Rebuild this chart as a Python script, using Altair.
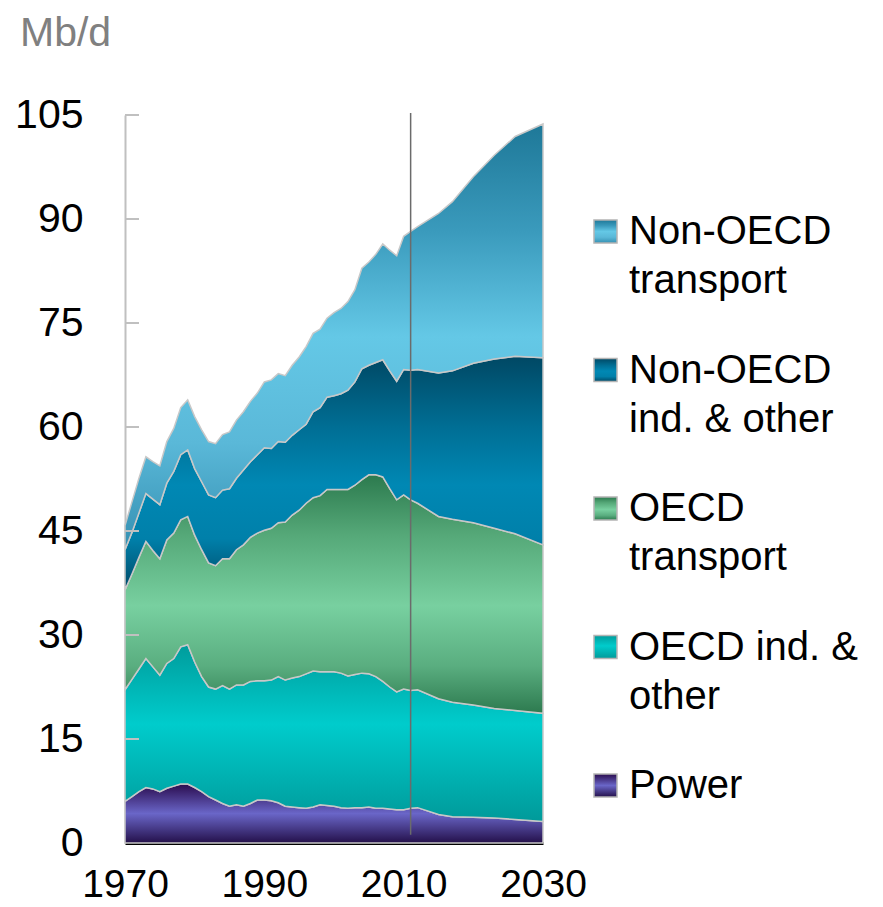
import altair as alt
import pandas as pd

# ---------------- data ----------------
years = list(range(1970, 2013)) + [2015, 2017, 2020, 2023, 2026, 2030]

# cumulative tops of each stacked band (Mb/d)
top_power = [6.0, 6.7, 7.4, 8.0, 7.8, 7.4, 7.9, 8.2, 8.5, 8.5,
             8.0, 7.4, 6.7, 6.2, 5.7, 5.3, 5.5, 5.3, 5.7, 6.2,
             6.2, 6.1, 5.8, 5.3, 5.2, 5.1, 5.0, 5.2, 5.5, 5.4,
             5.3, 5.1, 5.0, 5.1, 5.1, 5.2, 5.0, 5.0, 4.9, 4.8,
             4.8, 5.0, 5.1, 4.1, 3.8, 3.7, 3.6, 3.4, 3.1]
top_oecd_ind = [22.1, 23.6, 25.1, 26.6, 25.4, 24.2, 25.9, 26.6, 28.3, 28.6,
                26.1, 24.0, 22.5, 22.2, 22.7, 22.2, 22.8, 22.8, 23.3, 23.4,
                23.4, 23.5, 24.0, 23.5, 23.8, 24.0, 24.4, 24.8, 24.7, 24.7,
                24.7, 24.5, 24.1, 24.3, 24.5, 24.4, 24.0, 23.3, 22.5, 21.8,
                22.2, 22.0, 22.1, 20.8, 20.3, 19.9, 19.4, 19.1, 18.7]
top_oecd_tr = [36.5, 38.8, 41.2, 43.5, 42.2, 41.0, 43.7, 44.7, 46.6, 47.1,
               44.4, 42.3, 40.4, 40.0, 41.0, 41.0, 42.3, 43.0, 44.1, 44.7,
               45.1, 45.4, 46.2, 46.3, 47.3, 48.0, 49.0, 49.8, 50.1, 51.0,
               51.0, 51.0, 51.0, 51.6, 52.4, 53.1, 53.1, 52.8, 51.1, 49.5,
               50.2, 49.5, 49.0, 47.1, 46.7, 46.2, 45.4, 44.6, 43.0]
top_non_ind = [42.3, 44.8, 47.6, 50.4, 49.6, 48.8, 51.9, 53.6, 56.0, 56.7,
               54.0, 52.1, 50.2, 49.8, 50.9, 51.1, 52.6, 53.8, 55.0, 56.0,
               57.0, 56.9, 57.9, 57.8, 58.8, 59.6, 60.4, 62.2, 62.8, 64.3,
               64.5, 64.8, 65.3, 66.5, 68.4, 68.9, 69.3, 69.7, 68.1, 66.6,
               68.3, 68.2, 68.3, 67.8, 68.1, 69.2, 69.8, 70.2, 70.0]
top_non_tr = [45.8, 49.2, 52.6, 55.7, 55.0, 54.4, 57.9, 59.8, 62.8, 63.9,
              61.5, 59.6, 57.9, 57.6, 58.9, 59.3, 61.0, 62.2, 63.7, 64.9,
              66.5, 66.8, 67.7, 67.4, 68.9, 70.1, 71.6, 73.5, 74.1, 75.7,
              76.5, 77.1, 78.1, 79.8, 82.9, 83.8, 84.9, 86.4, 85.5, 84.7,
              87.5, 88.2, 88.9, 90.8, 92.5, 96.1, 99.2, 101.9, 103.7]

projection_start = [2011]
y_ticks = [0, 15, 30, 45, 60, 75, 90, 105]
x_ticks = [1970, 1990, 2010, 2030]
unit_label = "Mb/d"
legend_labels = [
    ["Non-OECD", "transport"],
    ["Non-OECD", "ind. & other"],
    ["OECD", "transport"],
    ["OECD ind. &", "other"],
    ["Power"],
]

# ---------------- styling ----------------
FONT = "Liberation Sans"
W, H = 418, 728


def grad(stops):
    return alt.Gradient(
        gradient="linear", x1=0, x2=0, y1=0, y2=1,
        stops=[alt.GradientStop(color=c, offset=o) for o, c in stops],
    )


g_power = grad([(0, "#2a0c4e"), (0.5, "#6a66c8"), (1, "#24104a")])
g_oecd_ind = grad([(0, "#009c9c"), (0.45, "#00cccc"), (1, "#009a9a")])
g_oecd_tr = grad([(0, "#2c7a4e"), (0.25, "#55a878"), (0.55, "#78d0a0"), (0.8, "#5aae80"), (1, "#2d7a4f")])
g_non_ind = grad([(0, "#004864"), (0.3, "#006e94"), (0.55, "#0088b4"), (0.78, "#0080aa"), (1, "#004a68")])
g_non_tr = grad([(0, "#1e7898"), (0.25, "#3a9abc"), (0.5, "#64c8e6"), (0.75, "#5ab8d8"), (1, "#3590b2")])

legend_grads = [g_non_tr, g_non_ind, g_oecd_tr, g_oecd_ind, g_power]

df = pd.DataFrame({
    "year": years,
    "power": top_power,
    "oecd_ind": top_oecd_ind,
    "oecd_tr": top_oecd_tr,
    "non_ind": top_non_ind,
    "non_tr": top_non_tr,
})

xscale = alt.Scale(domain=[1970, 2030], nice=False, zero=False)
yscale = alt.Scale(domain=[0, 105], nice=False)
xaxis = alt.Axis(values=x_ticks, format="d", title=None)
yaxis = alt.Axis(values=y_ticks, title=None)

STROKE = dict(stroke="#c8c8c8", strokeWidth=1.5)

base = alt.Chart(df)
layers = [
    base.mark_area(fill=g_power, **STROKE).encode(
        x=alt.X("year:Q", scale=xscale, axis=xaxis),
        y=alt.Y("power:Q", scale=yscale, axis=yaxis)),
    base.mark_area(fill=g_oecd_ind, **STROKE).encode(
        x=alt.X("year:Q", scale=xscale, axis=xaxis),
        y=alt.Y("oecd_ind:Q", scale=yscale, axis=yaxis), y2="power:Q"),
    base.mark_area(fill=g_oecd_tr, **STROKE).encode(
        x=alt.X("year:Q", scale=xscale, axis=xaxis),
        y=alt.Y("oecd_tr:Q", scale=yscale, axis=yaxis), y2="oecd_ind:Q"),
    base.mark_area(fill=g_non_ind, **STROKE).encode(
        x=alt.X("year:Q", scale=xscale, axis=xaxis),
        y=alt.Y("non_ind:Q", scale=yscale, axis=yaxis), y2="oecd_tr:Q"),
    base.mark_area(fill=g_non_tr, **STROKE).encode(
        x=alt.X("year:Q", scale=xscale, axis=xaxis),
        y=alt.Y("non_tr:Q", scale=yscale, axis=yaxis), y2="non_ind:Q"),
]

# inward grey y ticks
ticks_df = pd.DataFrame({"v": y_ticks[1:]})
layers.append(
    alt.Chart(ticks_df).mark_rule(color="#c0c0c0", strokeWidth=2).encode(
        y=alt.Y("v:Q", scale=yscale, axis=yaxis),
        x=alt.value(0), x2=alt.value(14))
)

# projection divider
div_df = pd.DataFrame({"year": projection_start})
layers.append(
    alt.Chart(div_df).mark_rule(color="#6b6b6b", strokeWidth=1.5).encode(
        x=alt.X("year:Q", scale=xscale, axis=xaxis),
        y=alt.datum(105.3), y2=alt.datum(1.2))
)

# unit label
layers.append(
    alt.Chart(pd.DataFrame({"t": [unit_label]})).mark_text(
        align="left", baseline="alphabetic", font=FONT, fontSize=41, color="#808080"
    ).encode(text="t:N", x=alt.value(-105), y=alt.value(-69))
)

# manual legend
LEG_SQ_X = 469
LEG_TX_X = 504
first_baseline = 129   # relative to plot top
step = 138.5
line_h = 49
for i, (lines, g) in enumerate(zip(legend_labels, legend_grads)):
    b = first_baseline + i * step
    layers.append(
        alt.Chart(pd.DataFrame({"k": [i]})).mark_rect(
            fill=g, stroke="#b4b4b4", strokeWidth=1.5
        ).encode(x=alt.value(LEG_SQ_X), x2=alt.value(LEG_SQ_X + 23),
                 y=alt.value(b - 24), y2=alt.value(b - 1))
    )
    for j, line in enumerate(lines):
        layers.append(
            alt.Chart(pd.DataFrame({"t": [line]})).mark_text(
                align="left", baseline="alphabetic", font=FONT, fontSize=40, color="#000000"
            ).encode(text="t:N", x=alt.value(LEG_TX_X), y=alt.value(b + j * line_h))
        )

chart = alt.layer(*layers).properties(
    width=W, height=H,
    autosize=alt.AutoSizeParams(type="none"),
    padding={"left": 117, "top": 107, "right": 332, "bottom": 64},
).configure_view(stroke=None).configure_axisX(
    domainColor="#000000", domainWidth=3, ticks=False, tickSize=0,
    labelFont=FONT, labelFontSize=39, labelColor="#000000", labelPadding=22,
    grid=False, zindex=1, labelFlush=False, labelOverlap=False,
).configure_axisY(
    domainColor="#c0c0c0", domainWidth=2, ticks=False, tickSize=0,
    labelFont=FONT, labelFontSize=41, labelColor="#000000", labelPadding=42,
    grid=False, zindex=1, labelOverlap=False,
)

chart.save("out.html", embed_options={"renderer": "svg", "actions": False})
